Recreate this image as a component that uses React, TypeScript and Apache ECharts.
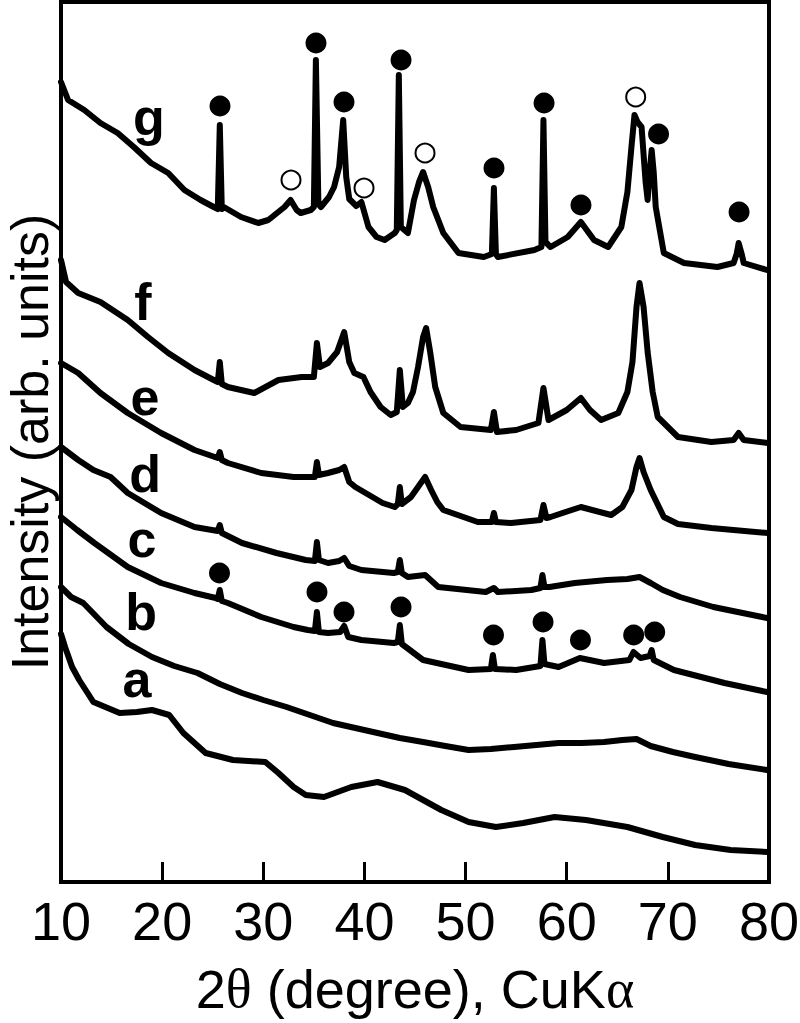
import React, { useEffect, useRef } from "react";
import * as echarts from "echarts";

// x: 2θ (degree), y: intensity (arb. units, stacked offsets)
const curveA: number[][] = [[10.0,248],[10.4,235],[11.1,215],[11.8,202],[13.2,180],[15.8,169],[17.5,170],[19.0,172],[20.7,167],[22.1,149],[24.3,129],[27.0,122],[30.2,120],[31.5,109],[33,95],[34.2,87],[36.0,85],[38.7,95],[41.3,100],[44.0,92],[47.6,72],[50.3,60],[53.0,55],[55.7,59],[58.8,65],[61.9,62],[66.0,55],[69.5,45],[72.7,37],[76.2,32],[79.9,30]];

const curveB: number[][] = [[10.0,295],[11,285],[12.2,279],[14.5,255],[16.7,238],[19.0,225],[21.2,216],[23.5,209],[25.7,198],[27.9,189],[30,182],[32.3,175],[34.6,167],[36.9,159],[39.1,154],[41.3,149],[43.5,144],[45.8,140],[48,136],[50.3,132],[52.5,133],[54.8,135],[57,137],[59.2,139],[61.5,139],[63.7,140],[65.5,142],[66.9,143],[68.3,136],[70.5,130],[72.7,125],[76,118],[79.8,112]];

const curveC: number[][] = [[10.0,365],[11.6,352],[13.3,339],[16.6,315],[19.9,299],[23.2,289],[25.3,284],[25.5,283],[25.7,292],[25.9,281],[26.5,279],[29.8,265],[33.0,255],[34.4,252],[35.1,251],[35.3,270],[35.5,250],[36.4,249],[37.6,250],[38.0,256],[38.4,245],[39.7,242],[42.9,239],[43.3,240],[43.5,257],[43.7,238],[45.8,222],[50.3,212],[52.5,213],[52.7,227],[52.9,213],[55.0,212],[57.4,216],[57.6,242],[57.8,218],[59.2,215],[61.3,224],[63.7,219],[66.2,222],[66.6,230],[67.3,224],[68.2,226],[68.4,232],[68.6,222],[70.6,212],[75.6,199],[79.8,190]];

const curveD: number[][] = [[10.0,435],[11.7,422],[13.2,412],[14.9,405],[16.6,389],[19.9,369],[23.2,355],[25.5,351],[25.7,357],[25.9,349],[27.9,339],[31.3,329],[34.2,322],[35.1,321],[35.3,340],[35.5,322],[36.4,319],[37.5,321],[38.0,324],[38.5,316],[39.7,312],[42.9,309],[43.3,310],[43.5,322],[43.7,309],[44.3,305],[46.0,307],[47.3,295],[52.0,290],[52.8,294],[53.2,290],[56.5,292],[57.4,294],[57.6,307],[57.8,295],[58.3,295],[60.8,299],[64.0,302],[66.0,303],[67.2,305],[68.3,299],[69.5,292],[71.2,285],[74.5,275],[79.8,264]];

const curveE: number[][] = [[10.0,519],[11.7,509],[13.9,489],[16.6,469],[19.9,449],[23.2,432],[25.5,424],[25.7,430],[25.9,422],[26.5,419],[29.8,409],[33.0,405],[34.7,405],[35.1,405],[35.3,420],[35.5,407],[36.4,409],[37.5,412],[38.0,415],[38.5,400],[39.1,395],[41.8,379],[43.0,375],[43.3,378],[43.5,395],[43.7,378],[44.6,385],[45.3,395],[46.0,405],[46.6,392],[47.2,380],[47.8,372],[51.2,360],[52.6,360],[52.8,369],[53.0,360],[54.5,359],[57.4,362],[57.7,377],[58.0,364],[58.4,365],[61.4,375],[64.4,367],[65.5,375],[66.4,392],[66.9,415],[67.2,424],[67.6,410],[68.3,392],[69.6,365],[71,358],[74.3,354],[79.9,349]];

const curveF: number[][] = [[10.0,622],[10.5,600],[11.7,589],[13.9,580],[16.6,562],[18.6,545],[20.6,529],[23.2,512],[25.1,502],[25.5,500],[25.7,520],[25.9,498],[26.5,495],[29.1,489],[31.5,502],[33.8,505],[35.0,505],[35.3,539],[35.6,515],[36.4,519],[37.3,530],[38.0,550],[38.5,520],[39.0,509],[39.9,505],[40.6,490],[41.6,475],[42.6,467],[43.2,470],[43.5,512],[43.8,475],[44.3,479],[44.8,490],[45.3,515],[45.8,545],[46.1,554],[46.5,530],[47.0,495],[47.8,469],[49.5,455],[52.5,452],[52.8,470],[53.1,450],[55,452],[57.2,459],[57.7,494],[58.2,462],[60.0,472],[61.4,484],[62.3,472],[63.4,462],[65.1,469],[66.0,490],[66.5,520],[66.9,575],[67.2,599],[67.6,575],[68.0,530],[68.5,490],[69.0,465],[71.0,445],[74.3,440],[76.5,442],[77.0,449],[77.5,442],[79.9,439]];

const curveG: number[][] = [[10.0,800],[10.7,782],[12.3,772],[13.9,759],[15.6,749],[17.2,735],[18.9,719],[20.6,709],[22.2,692],[23.8,682],[25.1,675],[25.5,673],[25.7,757],[25.9,673],[26.1,675],[27.8,665],[29.5,659],[30.5,662],[32.1,675],[32.7,682],[33.3,672],[33.7,669],[34.7,672],[35.0,675],[35.2,822],[35.45,678],[35.7,675],[36.5,685],[37.0,695],[37.5,715],[37.9,762],[38.2,705],[38.5,683],[39.2,676],[39.7,680],[40.4,655],[41.2,645],[42.0,642],[43.0,649],[43.2,652],[43.4,807],[43.6,655],[44.3,649],[44.9,682],[45.4,700],[45.8,710],[46.3,695],[46.8,675],[47.8,649],[49.3,629],[51.8,625],[52.6,628],[52.8,694],[53.0,628],[53.2,625],[56.8,632],[57.5,635],[57.7,762],[57.9,640],[58.4,635],[60.1,645],[61.4,660],[62.7,642],[64.1,635],[65.4,655],[66.0,690],[66.4,735],[66.7,767],[67.0,760],[67.4,755],[67.8,700],[68.0,682],[68.2,710],[68.4,732],[68.6,710],[68.8,675],[69.6,629],[71.6,619],[74.9,615],[76.5,619],[76.8,628],[77.0,639],[77.3,628],[77.5,619],[79.8,612]];

// filled circle markers (peak identification)
const filledMarks: number[][] = [
  [25.72,776],[35.21,839],[37.98,780],[43.62,822],[52.81,714],[57.76,779],[61.41,677],[69.08,748],[77.04,670],
  [25.67,309],[35.31,290],[37.98,270],[43.62,275],[52.76,247],[57.66,260],[61.36,242],[66.62,247],[68.70,250],
];
// open circle markers
const openMarks: number[][] = [[32.74,702],[39.96,694],[45.99,729],[66.82,785]];

const curveNames = ["a", "b", "c", "d", "e", "f", "g"];
const labelX = [17.51, 17.91, 18.01, 18.31, 18.31, 18.11, 18.70];
const labelY = [203, 270, 343, 408, 485, 580, 765];

const xTicks = [10, 20, 30, 40, 50, 60, 70, 80];

const FONT = "'Liberation Sans', Arial, Helvetica, sans-serif";

export default function App() {
  const ref = useRef<HTMLDivElement>(null);
  useEffect(() => {
    if (!ref.current) return;
    const chart = echarts.init(ref.current, undefined, { renderer: "svg" });
    const curves = [curveA, curveB, curveC, curveD, curveE, curveF, curveG];
    const lineSeries = curves.map((c, i) => ({
      type: "line",
      name: curveNames[i],
      data: c,
      symbol: "none",
      silent: true,
      lineStyle: { color: "#000", width: 6, join: "round", cap: "round" },
      z: 2,
    }));
    const option: any = {
      animation: false,
      backgroundColor: "#fff",
      grid: {
        left: 61, right: 31, top: 2, bottom: 141,
        outerBoundsMode: "none",
        containLabel: false,
        show: true, borderColor: "#000", borderWidth: 4, backgroundColor: "transparent",
      },
      xAxis: {
        type: "value",
        min: xTicks[0],
        max: xTicks[xTicks.length - 1],
        interval: 10,
        axisLine: { show: false },
        axisTick: { show: true, inside: true, length: 20, lineStyle: { color: "#000", width: 3 } },
        axisLabel: { color: "#000", fontSize: 54, fontFamily: FONT, margin: 12, hideOverlap: false },
        splitLine: { show: false },
        name: "2{s|θ} (degree), CuK{s|α}",
        nameLocation: "middle",
        nameGap: 80,
        nameTextStyle: {
          color: "#000", fontSize: 54, fontFamily: FONT,
          rich: { s: { fontSize: 54, fontFamily: "'Liberation Serif', 'DejaVu Serif', serif", color: "#000" } },
        },
      },
      yAxis: {
        type: "value",
        min: 0,
        max: 880,
        axisLine: { show: false },
        axisTick: { show: false },
        axisLabel: { show: false },
        splitLine: { show: false },
        name: "Intensity (arb. units)",
        nameLocation: "middle",
        nameRotate: 90,
        nameGap: 5,
        nameTextStyle: { color: "#000", fontSize: 52, fontFamily: FONT, lineHeight: 52 },
      },
      series: [
        ...lineSeries,
        {
          type: "scatter",
          data: filledMarks,
          symbol: "circle",
          symbolSize: 21,
          silent: true,
          itemStyle: { color: "#000", opacity: 1 },
          z: 5,
        },
        {
          type: "scatter",
          data: openMarks,
          symbol: "circle",
          symbolSize: 19,
          silent: true,
          itemStyle: { color: "#fff", borderColor: "#000", borderWidth: 2, opacity: 1 },
          z: 5,
        },
        {
          type: "scatter",
          data: curveNames.map((n, i) => ({ name: n, value: [labelX[i], labelY[i]] })),
          symbolSize: 0,
          silent: true,
          itemStyle: { color: "#000", opacity: 1 },
          label: {
            show: true,
            position: "inside",
            formatter: "{b}",
            color: "#000",
            opacity: 1,
            textBorderWidth: 0,
            fontSize: 52,
            fontWeight: "bold",
            fontFamily: FONT,
          },
          z: 6,
        },
      ],
    };
    chart.setOption(option);
    return () => chart.dispose();
  }, []);
  return (
    <div
      ref={ref}
      style={{ position: "fixed", left: 0, top: 0, width: 800, height: 1023, background: "#fff" }}
    />
  );
}
